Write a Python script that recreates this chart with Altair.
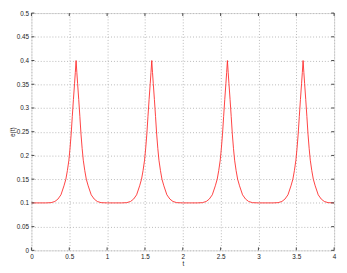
import altair as alt
import pandas as pd

t_values = [
    0.00, 0.10, 0.19, 0.26, 0.31, 0.35, 0.39, 0.43, 0.455, 0.475, 0.495, 0.51, 0.525, 0.54, 0.555, 0.57,
    0.58, 0.59, 0.60, 0.61, 0.625, 0.64, 0.655, 0.67, 0.685, 0.705, 0.725, 0.75, 0.79, 0.83, 0.87, 0.92,
    1.00, 1.10, 1.19, 1.26, 1.31, 1.35, 1.39, 1.43, 1.455, 1.475, 1.495, 1.51, 1.525, 1.54, 1.555, 1.57,
    1.58, 1.59, 1.60, 1.61, 1.625, 1.64, 1.655, 1.67, 1.685, 1.705, 1.725, 1.75, 1.79, 1.83, 1.87, 1.92,
    2.00, 2.10, 2.19, 2.26, 2.31, 2.35, 2.39, 2.43, 2.455, 2.475, 2.495, 2.51, 2.525, 2.54, 2.555, 2.57,
    2.58, 2.59, 2.60, 2.61, 2.625, 2.64, 2.655, 2.67, 2.685, 2.705, 2.725, 2.75, 2.79, 2.83, 2.87, 2.92,
    3.00, 3.10, 3.19, 3.26, 3.31, 3.35, 3.39, 3.43, 3.455, 3.475, 3.495, 3.51, 3.525, 3.54, 3.555, 3.57,
    3.58, 3.59, 3.60, 3.61, 3.625, 3.64, 3.655, 3.67, 3.685, 3.705, 3.725, 3.75, 3.79, 3.83, 3.87, 3.92,
    4.00,
]
e_values = [
    0.1, 0.1, 0.1, 0.1005, 0.103, 0.108, 0.117, 0.136, 0.150, 0.168, 0.190, 0.215, 0.245, 0.282, 0.318, 0.352,
    0.375, 0.400, 0.375, 0.352, 0.318, 0.282, 0.245, 0.215, 0.190, 0.168, 0.150, 0.136, 0.117, 0.108, 0.103, 0.1005,
    0.1, 0.1, 0.1, 0.1005, 0.103, 0.108, 0.117, 0.136, 0.150, 0.168, 0.190, 0.215, 0.245, 0.282, 0.318, 0.352,
    0.375, 0.400, 0.375, 0.352, 0.318, 0.282, 0.245, 0.215, 0.190, 0.168, 0.150, 0.136, 0.117, 0.108, 0.103, 0.1005,
    0.1, 0.1, 0.1, 0.1005, 0.103, 0.108, 0.117, 0.136, 0.150, 0.168, 0.190, 0.215, 0.245, 0.282, 0.318, 0.352,
    0.375, 0.400, 0.375, 0.352, 0.318, 0.282, 0.245, 0.215, 0.190, 0.168, 0.150, 0.136, 0.117, 0.108, 0.103, 0.1005,
    0.1, 0.1, 0.1, 0.1005, 0.103, 0.108, 0.117, 0.136, 0.150, 0.168, 0.190, 0.215, 0.245, 0.282, 0.318, 0.352,
    0.375, 0.400, 0.375, 0.352, 0.318, 0.282, 0.245, 0.215, 0.190, 0.168, 0.150, 0.136, 0.117, 0.108, 0.103, 0.1005,
    0.1,
]
x_ticks = [0, 0.5, 1, 1.5, 2, 2.5, 3, 3.5, 4]
y_ticks = [0, 0.05, 0.1, 0.15, 0.2, 0.25, 0.3, 0.35, 0.4, 0.45, 0.5]

W, H = 310, 243
FONT = "Liberation Sans"

df = pd.DataFrame({"t": t_values, "e": e_values})
xt = pd.DataFrame({"t": x_ticks})
yt = pd.DataFrame({"e": y_ticks})

xscale = alt.Scale(domain=[0, 4], nice=False, zero=False)
yscale = alt.Scale(domain=[0, 0.5], nice=False, zero=False)

common = dict(format="~g", grid=True, gridDash=[1, 2], gridColor="#b8b8b8", gridWidth=1,
              domain=False, ticks=False, labelFont=FONT, titleFont=FONT,
              labelFontSize=6.5, titleFontSize=6.5, titleFontWeight="normal",
              labelColor="#222", titleColor="#222", labelOverlap=False, labelFlush=False)
xaxis = alt.Axis(values=x_ticks, labelPadding=3, titlePadding=1, **common)
yaxis = alt.Axis(values=y_ticks, labelPadding=3, titlePadding=1, **common)

line = alt.Chart(df).mark_line(color="#ff2a2a", strokeWidth=0.9, clip=True).encode(
    x=alt.X("t:Q", scale=xscale, title="t", axis=xaxis),
    y=alt.Y("e:Q", scale=yscale, title="e(t)", axis=yaxis),
)

tick_color = "#444"
xb = alt.Chart(xt).mark_rule(color=tick_color, strokeWidth=1).encode(
    x=alt.X("t:Q", scale=xscale, title="t", axis=xaxis), y=alt.value(H), y2=alt.value(H - 3))
xtop = alt.Chart(xt).mark_rule(color=tick_color, strokeWidth=1).encode(
    x=alt.X("t:Q", scale=xscale, title="t", axis=xaxis), y=alt.value(0), y2=alt.value(3))
yl = alt.Chart(yt).mark_rule(color=tick_color, strokeWidth=1).encode(
    y=alt.Y("e:Q", scale=yscale, title="e(t)", axis=yaxis), x=alt.value(0), x2=alt.value(3))
yr = alt.Chart(yt).mark_rule(color=tick_color, strokeWidth=1).encode(
    y=alt.Y("e:Q", scale=yscale, title="e(t)", axis=yaxis), x=alt.value(W), x2=alt.value(W - 3))

chart = alt.layer(line, xb, xtop, yl, yr).properties(
    width=W, height=H,
    autosize=alt.AutoSizeParams(type="none"),
    padding={"left": 24, "top": 2, "right": 5, "bottom": 20},
).configure_view(stroke="#444", strokeWidth=1).configure(background="white")

chart.save("out.html", embed_options={"renderer": "svg", "actions": False})
